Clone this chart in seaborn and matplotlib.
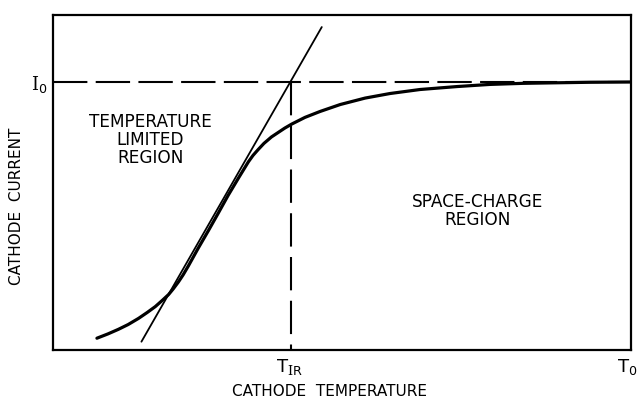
import matplotlib
matplotlib.use("Agg")
import matplotlib.pyplot as plt
from matplotlib.transforms import ScaledTranslation
import seaborn as sns
import pandas as pd

# ---- data (normalised: temperature T0 = 1, saturation current I0 = 1) ----
curve_temp = [0.076, 0.095, 0.113, 0.130, 0.148, 0.163, 0.177, 0.189, 0.200,
              0.208, 0.217, 0.225, 0.234, 0.251, 0.269, 0.286, 0.303, 0.321,
              0.338, 0.346, 0.355, 0.365, 0.378, 0.401, 0.413, 0.436, 0.462,
              0.497, 0.540, 0.583, 0.635, 0.699, 0.756, 0.813, 0.869, 0.929,
              0.998]
curve_current = [0.044, 0.060, 0.077, 0.095, 0.118, 0.140, 0.162, 0.185, 0.207,
                 0.228, 0.254, 0.280, 0.313, 0.379, 0.446, 0.511, 0.577, 0.642,
                 0.702, 0.726, 0.748, 0.771, 0.795, 0.828, 0.843, 0.868, 0.890,
                 0.916, 0.940, 0.957, 0.972, 0.983, 0.991, 0.995, 0.997, 0.999,
                 1.000]
tangent_temp = [0.153, 0.465]
tangent_current = [0.031, 1.205]
T_IR = 0.412
T0 = 1.0
I0 = 1.0
x_tick_labels = [r"$\mathsf{T}_{\mathrm{I}\mathsf{R}}$", r"$\mathsf{T}_{\mathsf{0}}$"]
y_tick_labels = [r"$\mathrm{I}_{\mathsf{0}}$"]
region_labels = ["TEMPERATURE\nLIMITED\nREGION", "SPACE-CHARGE\nREGION"]
x_label = "CATHODE  TEMPERATURE"
y_label = "CATHODE  CURRENT"

sns.set_theme(style="white")
plt.rcParams["font.family"] = ["DejaVu Sans"]
plt.rcParams["mathtext.fontset"] = "dejavuserif"

fig = plt.figure(figsize=(6.37, 4.01), dpi=100)
ax = fig.add_axes([53 / 637, 51 / 401, 578 / 637, 335 / 401])

curve = pd.DataFrame({"T": curve_temp, "I": curve_current})
sns.lineplot(data=curve, x="T", y="I", ax=ax, color="black", lw=2.3,
             estimator=None, sort=False)
sns.lineplot(x=tangent_temp, y=tangent_current, ax=ax, color="black", lw=1.3,
             estimator=None, sort=False)
sns.lineplot(x=[0, T0], y=[I0, I0], ax=ax, color="black", lw=1.5,
             estimator=None, sort=False, linestyle=(0, (16.5, 4)))
# drawn downward from I0 so the dash pattern starts at the intersection
sns.lineplot(x=[T_IR, T_IR], y=[I0, 0], ax=ax, color="black", lw=1.5,
             estimator=None, sort=False, linestyle=(0, (16, 5)))

ax.set_xlim(0, 1.0)
ax.set_ylim(0, 1.25)
ax.set_xticks([T_IR, T0])
ax.set_xticklabels(x_tick_labels, fontsize=13)
ax.set_yticks([I0])
ax.set_yticklabels(y_tick_labels, fontsize=13)
ax.tick_params(axis="both", length=0, colors="black")
ax.tick_params(axis="x", pad=5)
ax.tick_params(axis="y", pad=4)
labels = ax.get_xticklabels()
labels[0].set_transform(labels[0].get_transform() + ScaledTranslation(-2 / 100, 0, fig.dpi_scale_trans))
labels[-1].set_transform(labels[-1].get_transform() + ScaledTranslation(-4 / 100, 0, fig.dpi_scale_trans))

for s in ax.spines.values():
    s.set_visible(True)
    s.set_color("black")
    s.set_linewidth(1.6)

ax.set_xlabel(x_label, fontsize=11, color="black")
ax.xaxis.set_label_coords(0.479, -0.125)
ax.xaxis.label.set_va("center")
ax.set_ylabel(y_label, fontsize=11, color="black")
ax.yaxis.set_label_coords(-0.064, 0.43)
ax.yaxis.label.set_va("center")

ax.text(0.168, 0.627, region_labels[0], transform=ax.transAxes, ha="center",
        va="center", fontsize=12.2, linespacing=1.02, color="black")
ax.text(0.734, 0.415, region_labels[1], transform=ax.transAxes, ha="center",
        va="center", fontsize=12.2, linespacing=1.02, color="black")

fig.savefig("out.png", dpi=100)
